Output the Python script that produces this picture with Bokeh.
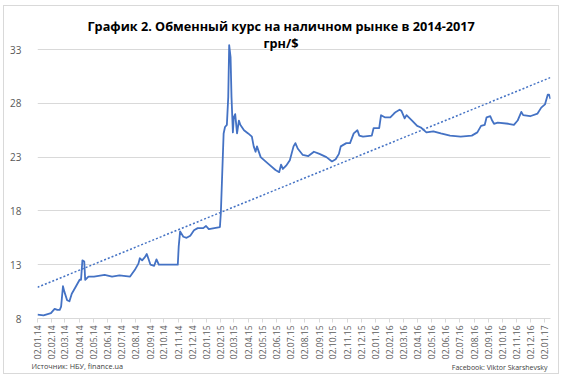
import pandas as pd
from bokeh.plotting import figure
from bokeh.models import Range1d, FixedTicker, DatetimeTickFormatter, Title
from bokeh.embed import file_html
from bokeh.resources import INLINE
import math

# ---- data ----
dates = [
    "2014-01-02", "2014-01-15", "2014-01-31", "2014-02-08", "2014-02-14", "2014-02-19",
    "2014-02-22", "2014-02-26", "2014-03-01", "2014-03-07", "2014-03-12", "2014-03-17",
    "2014-03-25", "2014-04-03", "2014-04-06", "2014-04-09", "2014-04-13", "2014-04-15",
    "2014-04-22", "2014-05-04", "2014-05-27", "2014-06-12", "2014-06-28", "2014-07-21",
    "2014-07-31", "2014-08-08", "2014-08-11", "2014-08-16", "2014-08-22", "2014-08-26",
    "2014-08-30", "2014-09-03", "2014-09-11", "2014-09-16", "2014-09-21", "2014-10-08",
    "2014-11-01", "2014-11-03", "2014-11-06", "2014-11-13", "2014-11-20", "2014-11-28",
    "2014-12-06", "2014-12-14", "2014-12-26", "2015-01-01", "2015-01-07", "2015-01-19",
    "2015-01-31", "2015-02-02", "2015-02-05", "2015-02-08", "2015-02-11", "2015-02-15",
    "2015-02-18", "2015-02-20", "2015-02-23", "2015-02-25", "2015-02-28", "2015-03-02",
    "2015-03-05", "2015-03-09", "2015-03-13", "2015-03-16", "2015-03-24", "2015-04-02",
    "2015-04-10", "2015-04-14", "2015-04-18", "2015-04-21", "2015-04-29", "2015-05-15",
    "2015-05-31", "2015-06-08", "2015-06-12", "2015-06-16", "2015-06-23", "2015-07-01",
    "2015-07-09", "2015-07-13", "2015-07-18", "2015-07-29", "2015-08-10", "2015-08-22",
    "2015-09-03", "2015-09-18", "2015-09-30", "2015-10-08", "2015-10-15", "2015-10-19",
    "2015-10-31", "2015-11-08", "2015-11-16", "2015-11-24", "2015-11-28", "2015-12-06",
    "2015-12-25", "2015-12-29", "2016-01-10", "2016-01-14", "2016-01-22", "2016-02-03",
    "2016-02-11", "2016-02-15", "2016-02-23", "2016-02-27", "2016-03-05", "2016-03-09",
    "2016-03-21", "2016-04-01", "2016-04-09", "2016-04-21", "2016-05-06", "2016-05-22",
    "2016-06-11", "2016-07-04", "2016-07-28", "2016-08-09", "2016-08-17", "2016-08-25",
    "2016-08-29", "2016-09-06", "2016-09-10", "2016-09-14", "2016-09-22", "2016-10-15",
    "2016-10-27", "2016-11-04", "2016-11-12", "2016-11-16", "2016-12-01", "2016-12-17",
    "2016-12-25", "2017-01-02", "2017-01-08", "2017-01-11", "2017-01-14",
]
rates = [
    8.37, 8.30, 8.50, 8.90, 8.80, 8.80,
    9.10, 11.00, 10.50, 9.70, 9.60, 10.30,
    10.90, 11.60, 11.60, 13.40, 13.30, 11.60,
    11.90, 11.90, 12.05, 11.90, 12.00, 11.90,
    12.50, 13.10, 13.60, 13.40, 13.70, 14.00,
    13.50, 13.00, 12.90, 13.50, 13.00, 13.00,
    13.00, 14.70, 16.10, 15.60, 15.50, 15.70,
    16.20, 16.40, 16.40, 16.60, 16.30, 16.40,
    16.50, 17.80, 21.50, 25.20, 25.80, 26.00,
    28.60, 33.40, 32.30, 28.60, 25.30, 26.70,
    27.00, 25.20, 26.40, 26.00, 25.50, 25.20,
    24.90, 24.00, 23.50, 24.00, 23.00, 22.40,
    21.80, 21.60, 22.30, 21.90, 22.20, 22.70,
    24.00, 24.30, 23.80, 23.20, 23.10, 23.50,
    23.30, 23.00, 22.60, 22.80, 23.30, 24.00,
    24.30, 24.30, 25.20, 25.50, 25.00, 24.90,
    25.00, 25.70, 25.70, 26.90, 26.70, 26.70,
    27.05, 27.20, 27.40, 27.30, 26.60, 26.90,
    26.40, 25.90, 25.75, 25.30, 25.40, 25.20,
    25.00, 24.90, 25.00, 25.30, 25.90, 26.00,
    26.70, 26.80, 26.40, 26.10, 26.20, 26.10,
    26.00, 26.40, 27.20, 26.90, 26.80, 27.05,
    27.60, 27.90, 28.80, 28.80, 28.40,
]
trend_dates = ["2014-01-02", "2017-01-14"]
trend_values = [10.9, 30.4]

tick_dates = [f"{y}-{m:02d}-02" for y in (2014, 2015, 2016) for m in range(1, 13)] + ["2017-01-02"]
y_ticks = [8, 13, 18, 23, 28, 33]

title_1 = "График 2. Обменный курс на наличном рынке в 2014-2017"
title_2 = "грн/$"
source_note = "Источник: НБУ, finance.ua"
author_note = "Facebook: Viktor Skarshevsky"

# ---- plot ----
FONT = "Open Sans"
BLUE = "#4472C4"
GRID = "#d9d9d9"
LABEL = "#595959"

x = pd.to_datetime(dates)
tx = pd.to_datetime(trend_dates)
ticks_ms = [pd.Timestamp(d).value / 1e6 for d in tick_dates]

p = figure(width=556, height=369, x_axis_type="datetime",
           output_backend="svg", toolbar_location=None,
           x_range=Range1d(pd.Timestamp("2014-01-02"), pd.Timestamp("2017-01-14")),
           y_range=Range1d(8, 33.56),
           min_border_left=33, min_border_right=10, min_border_top=37, min_border_bottom=57)
p.styles = {"border": "1px solid #d9d9d9", "margin-left": "3px", "margin-top": "5px"}
p.title.visible = False
p.outline_line_color = None
p.background_fill_color = "white"
p.border_fill_color = "white"

p.xgrid.grid_line_color = None
p.ygrid.grid_line_color = GRID
p.ygrid.grid_line_width = 1

p.yaxis.ticker = FixedTicker(ticks=y_ticks)
p.yaxis.axis_line_color = None
p.yaxis.major_tick_line_color = None
p.yaxis.minor_tick_line_color = None
p.yaxis.major_label_text_font = FONT
p.yaxis.major_label_text_font_size = "10px"
p.yaxis.major_label_text_color = LABEL
p.yaxis.major_label_standoff = 10

p.xaxis.ticker = FixedTicker(ticks=ticks_ms)
fmt = "%d.%m.%y"
p.xaxis.formatter = DatetimeTickFormatter(days=fmt, months=fmt, years=fmt, hours=fmt,
                                          hourmin=fmt, minutes=fmt, minsec=fmt, seconds=fmt,
                                          milliseconds=fmt, microseconds=fmt)
p.xaxis.major_label_orientation = math.pi / 2
p.xaxis.axis_line_color = GRID
p.xaxis.major_tick_line_color = GRID
p.xaxis.major_tick_in = 0
p.xaxis.major_tick_out = 4
p.xaxis.minor_tick_line_color = None
p.xaxis.major_label_text_font = FONT
p.xaxis.major_label_text_font_size = "8.5px"
p.xaxis.major_label_text_color = LABEL
p.xaxis.major_label_standoff = 3

p.line(tx, trend_values, line_color=BLUE, line_width=1.5, line_dash="2 2")
p.line(x, rates, line_color=BLUE, line_width=1.8, line_join="round")

# titles (closest to the frame first)
t2 = Title(text=title_2, align="left", offset=226, vertical_align="middle", standoff=-18,
           text_font=FONT, text_font_style="bold", text_font_size="12.7px", text_color="#000000")
t1 = Title(text=title_1, align="left", offset=50, vertical_align="middle", standoff=11,
           text_font=FONT, text_font_style="bold", text_font_size="12.7px", text_color="#000000")
p.add_layout(t2, "above")
p.add_layout(t1, "above")

t3 = Title(text=source_note, align="left", offset=-6, vertical_align="bottom", standoff=-8,
           text_font=FONT, text_font_size="7.3px", text_color="#404040", text_font_style="normal")
t4 = Title(text=author_note, align="right", offset=3, vertical_align="top", standoff=-7,
           text_font=FONT, text_font_size="7px", text_color="#404040", text_font_style="normal")
p.add_layout(t3, "below")
p.add_layout(t4, "below")

open("out.html", "w").write(file_html(p, INLINE))
